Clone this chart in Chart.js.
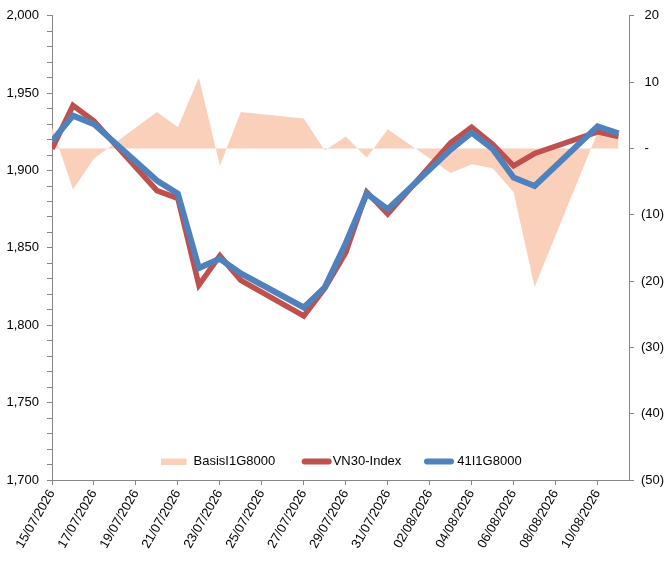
<!DOCTYPE html>
<html>
<head>
<meta charset="utf-8">
<script src="https://cdn.jsdelivr.net/npm/chart.js@4.4.1/dist/chart.umd.min.js"></script>
<style>
  html, body { margin: 0; padding: 0; background: #ffffff; }
  #wrap { width: 672px; height: 562px; position: relative; }
</style>
</head>
<body>
<div id="wrap"><canvas id="c"></canvas></div>
<script>
// ---- data ----
const dates = ['15/07/2026','16/07/2026','17/07/2026','20/07/2026','21/07/2026','22/07/2026','23/07/2026','24/07/2026',
  '27/07/2026','28/07/2026','29/07/2026','30/07/2026','31/07/2026','03/08/2026','04/08/2026','05/08/2026',
  '06/08/2026','07/08/2026','10/08/2026','11/08/2026'];
const basis = [3.2, -6.2, -1.5, 5.5, 3.2, 10.7, -2.6, 5.5, 4.5, -0.3, 1.8, -1.4, 2.9, -3.7, -2.4, -3.0, -6.6, -20.9, 2.4, 1.7];
const vn30 = [1914, 1942, 1932, 1887, 1882, 1826, 1845, 1829, 1806, 1824, 1847, 1886, 1872, 1918, 1928, 1917, 1903, 1911, 1925, 1922];
const f41 = [1919, 1935.5, 1930, 1893.5, 1885, 1837, 1843, 1833.5, 1811.5, 1824.5, 1853, 1885, 1875, 1913.5, 1924.5, 1914, 1895.5, 1890, 1928.5, 1924];
const xTickLabels = ['15/07/2026','17/07/2026','19/07/2026','21/07/2026','23/07/2026','25/07/2026','27/07/2026',
  '29/07/2026','31/07/2026','02/08/2026','04/08/2026','06/08/2026','08/08/2026','10/08/2026'];
const leftTicks = [1700, 1750, 1800, 1850, 1900, 1950, 2000];
const rightTicks = [-50, -40, -30, -20, -10, 0, 10, 20];
const seriesNames = ['BasisI1G8000', 'VN30-Index', '41I1G8000'];

// ---- helpers ----
function dayNum(s) {
  const p = s.split('/');
  return Date.UTC(+p[2], +p[1] - 1, +p[0]) / 86400000;
}
const d0 = dayNum(dates[0]);
const xOf = s => dayNum(s) - d0;
const pts = arr => arr.map((v, i) => ({ x: xOf(dates[i]), y: v }));
const tickLabelByX = {};
xTickLabels.forEach(s => { tickLabelByX[xOf(s)] = s; });

const AXIS = '#868686';
const FONT = { family: '"Liberation Sans", Arial, sans-serif', size: 13 };
const C_BASIS = '#FBD0BA';
const C_VN = '#C0504D';
const C_41 = '#4F81BD';

const legendPlugin = {
  id: 'inlineLegend',
  afterDatasetsDraw(chart) {
    const ctx = chart.ctx, ca = chart.chartArea;
    const cx = (ca.left + ca.right) / 2;
    const cy = ca.bottom - 18.5;
    const ds = chart.data.datasets;
    ctx.save();
    ctx.font = '13px "Liberation Sans", Arial, sans-serif';
    ctx.textBaseline = 'middle';
    ctx.textAlign = 'left';
    ctx.fillStyle = ds[0].backgroundColor;
    ctx.fillRect(cx - 179.5, cy - 3, 25.5, 6.5);
    ctx.fillStyle = '#000000';
    ctx.fillText(ds[0].label, cx - 147, cy);
    const line = (x1, x2, col) => {
      ctx.beginPath(); ctx.lineCap = 'round'; ctx.lineWidth = 6; ctx.strokeStyle = col;
      ctx.moveTo(x1, cy); ctx.lineTo(x2, cy); ctx.stroke();
    };
    line(cx - 35.8, cx - 11.8, ds[1].borderColor);
    ctx.fillText(ds[1].label, cx - 7.8, cy);
    line(cx + 86.5, cx + 110.5, ds[2].borderColor);
    ctx.fillText(ds[2].label, cx + 116.8, cy);
    ctx.restore();
  }
};

new Chart(document.getElementById('c'), {
  type: 'line',
  data: {
    datasets: [
      { label: seriesNames[0], data: pts(basis), yAxisID: 'y2', fill: 'origin', order: 3,
        backgroundColor: C_BASIS, borderColor: C_BASIS, borderWidth: 0, pointRadius: 0, tension: 0 },
      { label: seriesNames[1], data: pts(vn30), yAxisID: 'y', fill: false, order: 2,
        borderColor: C_VN, backgroundColor: C_VN, borderWidth: 5.5, pointRadius: 0, tension: 0, borderJoinStyle: 'miter' },
      { label: seriesNames[2], data: pts(f41), yAxisID: 'y', fill: false, order: 1,
        borderColor: C_41, backgroundColor: C_41, borderWidth: 6, pointRadius: 0, tension: 0, borderJoinStyle: 'miter' }
    ]
  },
  options: {
    responsive: true,
    maintainAspectRatio: false,
    animation: false,
    layout: { padding: { top: 15, left: 0, right: 0, bottom: 0 } },
    plugins: { legend: { display: false }, tooltip: { enabled: false } },
    scales: {
      x: {
        type: 'linear', min: 0, max: 27.5,
        afterBuildTicks: s => { s.ticks = xTickLabels.map(l => ({ value: xOf(l) })); },
        afterFit: s => { s.height = 82; },
        grid: { drawOnChartArea: false, drawTicks: true, tickLength: 5, color: AXIS },
        border: { display: true, color: AXIS, width: 1 },
        ticks: { autoSkip: false, minRotation: 60, maxRotation: 60, padding: 2, color: '#000', font: FONT,
          callback: v => tickLabelByX[v] || '' }
      },
      y: {
        position: 'left', min: 1700, max: 2000,
        afterBuildTicks: s => { const t = []; for (let v = 1700; v <= 2000; v += 10) t.push({ value: v }); s.ticks = t; },
        afterFit: s => { s.width = 52; },
        grid: { drawOnChartArea: false, drawTicks: true, tickLength: 5, color: AXIS },
        border: { display: true, color: AXIS, width: 1 },
        ticks: { autoSkip: false, padding: 8, color: '#000', font: FONT,
          callback: v => leftTicks.includes(v) ? v.toLocaleString('en-US') : '' }
      },
      y2: {
        position: 'right', min: -50, max: 20,
        afterBuildTicks: s => { s.ticks = rightTicks.map(v => ({ value: v })); },
        afterFit: s => { s.width = 43; },
        grid: { drawOnChartArea: false, drawTicks: true, tickLength: 5, color: AXIS },
        border: { display: true, color: AXIS, width: 1 },
        ticks: { autoSkip: false, padding: 7, color: '#000', font: FONT,
          callback: v => v === 0 ? ' -' : (v < 0 ? '(' + Math.abs(v) + ')' : ' ' + v) }
      }
    }
  },
  plugins: [legendPlugin]
});
</script>
</body>
</html>
